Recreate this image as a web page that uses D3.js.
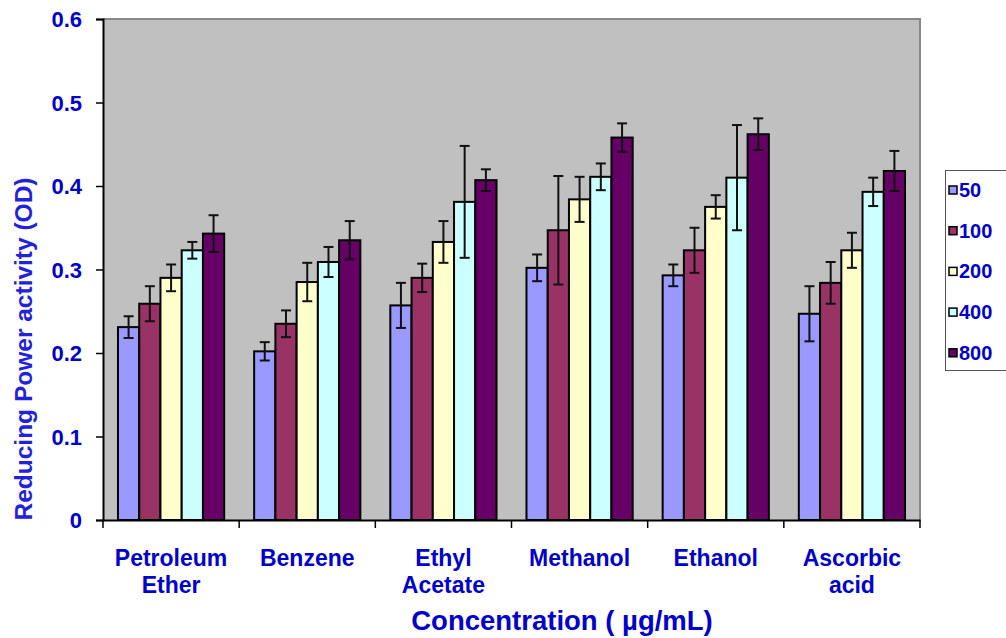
<!DOCTYPE html>
<html>
<head>
<meta charset="utf-8">
<script src="https://cdn.jsdelivr.net/npm/d3@7"></script>
<style>
  html, body { margin: 0; padding: 0; background: #fff; }
  svg { display: block; font-family: "Liberation Sans", Arial, sans-serif; font-weight: bold; }
</style>
</head>
<body>
<svg id="chart" width="1006" height="638"></svg>
<script>
const categories = [["Petroleum", "Ether"], ["Benzene"], ["Ethyl", "Acetate"], ["Methanol"], ["Ethanol"], ["Ascorbic", "acid"]];
const seriesNames = ["50", "100", "200", "400", "800"];
const seriesColors = ["#9999FF", "#993366", "#FFFFCC", "#CCFFFF", "#660066"];
const s50  = [0.231, 0.202, 0.257, 0.302, 0.293, 0.247];
const s100 = [0.259, 0.235, 0.290, 0.347, 0.323, 0.284];
const s200 = [0.290, 0.285, 0.333, 0.384, 0.375, 0.323];
const s400 = [0.323, 0.309, 0.381, 0.411, 0.410, 0.393];
const s800 = [0.343, 0.335, 0.407, 0.458, 0.462, 0.418];
const e50  = [0.013, 0.011, 0.027, 0.016, 0.013, 0.033];
const e100 = [0.021, 0.016, 0.017, 0.065, 0.027, 0.025];
const e200 = [0.016, 0.023, 0.025, 0.027, 0.014, 0.021];
const e400 = [0.010, 0.018, 0.067, 0.016, 0.063, 0.017];
const e800 = [0.022, 0.023, 0.013, 0.017, 0.019, 0.024];
const yTicks = [0, 0.1, 0.2, 0.3, 0.4, 0.5, 0.6];
const yTitle = "Reducing Power activity (OD)";
const xTitle = "Concentration ( µg/mL)";

const values = [s50, s100, s200, s400, s800];
const errors = [e50, e100, e200, e400, e800];

const svg = d3.select("#chart");
const plot = { left: 103, right: 920, top: 19, bottom: 520 };
const catKeys = categories.map(c => c.join(" "));

const x0 = d3.scaleBand().domain(catKeys).range([plot.left, plot.right]).padding(0);
const x1 = d3.scaleBand().domain(seriesNames)
  .range([x0.bandwidth() * 0.11, x0.bandwidth() * 0.89]).padding(0);
const y = d3.scaleLinear().domain([0, 0.6]).range([plot.bottom, plot.top]);

const blue = "#0000CC";

// plot background
svg.append("rect")
  .attr("x", plot.left).attr("y", plot.top)
  .attr("width", plot.right - plot.left).attr("height", plot.bottom - plot.top)
  .attr("fill", "#C0C0C0");
// top and right border
svg.append("path")
  .attr("d", `M${plot.left},${plot.top}H${plot.right}V${plot.bottom}`)
  .attr("fill", "none").attr("stroke", "#888").attr("stroke-width", 2);

// bars
const data = [];
catKeys.forEach((c, ci) => {
  seriesNames.forEach((s, si) => {
    data.push({ c, s, si, v: values[si][ci], e: errors[si][ci] });
  });
});

const g = svg.append("g");
g.selectAll("rect.bar").data(data).enter().append("rect")
  .attr("class", "bar")
  .attr("x", d => x0(d.c) + x1(d.s))
  .attr("y", d => y(d.v))
  .attr("width", x1.bandwidth())
  .attr("height", d => y(0) - y(d.v))
  .attr("fill", d => seriesColors[d.si])
  .attr("stroke", "#000").attr("stroke-width", 2);

// error bars
const eb = g.selectAll("g.err").data(data).enter().append("g")
  .attr("stroke", "#111").attr("stroke-width", 2);
const cx = d => x0(d.c) + x1(d.s) + x1.bandwidth() / 2;
eb.append("line")
  .attr("x1", cx).attr("x2", cx)
  .attr("y1", d => y(d.v + d.e)).attr("y2", d => y(d.v - d.e));
eb.append("line")
  .attr("x1", d => cx(d) - 5).attr("x2", d => cx(d) + 5)
  .attr("y1", d => y(d.v + d.e)).attr("y2", d => y(d.v + d.e));
eb.append("line")
  .attr("x1", d => cx(d) - 5).attr("x2", d => cx(d) + 5)
  .attr("y1", d => y(d.v - d.e)).attr("y2", d => y(d.v - d.e));

// y axis
const yAxis = svg.append("g")
  .attr("transform", `translate(${plot.left},0)`)
  .call(d3.axisLeft(y).tickValues(yTicks).tickSize(7).tickPadding(14)
    .tickFormat(d => d === 0 ? "0" : d3.format(".1f")(d)));
yAxis.select(".domain").attr("stroke", "#000").attr("stroke-width", 2);
yAxis.selectAll(".tick line").attr("stroke", "#000").attr("stroke-width", 1.5);
yAxis.selectAll(".tick text")
  .attr("fill", blue).attr("font-size", 22).attr("font-weight", "bold")
  .attr("font-family", "Liberation Sans, Arial, sans-serif")
  .attr("dy", "0.36em");

// x axis
const xAxis = svg.append("g")
  .attr("transform", `translate(0,${plot.bottom})`)
  .call(d3.axisBottom(x0).tickValues([]).tickSize(0));
xAxis.select(".domain").attr("stroke", "#000").attr("stroke-width", 2);
// category boundary ticks
const bounds = catKeys.map(c => x0(c)).concat([plot.right]);
svg.append("g").selectAll("line").data(bounds).enter().append("line")
  .attr("x1", d => d).attr("x2", d => d)
  .attr("y1", plot.bottom).attr("y2", plot.bottom + 8)
  .attr("stroke", "#000").attr("stroke-width", 1.5);

// category labels
const labels = svg.append("g");
categories.forEach((lines, ci) => {
  const t = labels.append("text")
    .attr("x", x0(catKeys[ci]) + x0.bandwidth() / 2)
    .attr("y", 566)
    .attr("text-anchor", "middle")
    .attr("fill", blue).attr("font-size", 23);
  lines.forEach((ln, li) => {
    t.append("tspan").attr("x", x0(catKeys[ci]) + x0.bandwidth() / 2)
      .attr("dy", li === 0 ? 0 : 27).text(ln);
  });
});

// axis titles
svg.append("text")
  .attr("x", 562).attr("y", 630)
  .attr("text-anchor", "middle")
  .attr("fill", blue).attr("font-size", 27.5)
  .text(xTitle);

svg.append("text")
  .attr("transform", "translate(32,349) rotate(-90)")
  .attr("text-anchor", "middle")
  .attr("fill", "#2222DD").attr("font-size", 24.5)
  .text(yTitle);

// legend
const leg = svg.append("g");
leg.append("rect")
  .attr("x", 945.5).attr("y", 170.5).attr("width", 80).attr("height", 200)
  .attr("fill", "#fff").attr("stroke", "#555").attr("stroke-width", 1);
seriesNames.forEach((s, i) => {
  const cy = 190 + i * 40.7;
  leg.append("rect")
    .attr("x", 949).attr("y", cy - 4).attr("width", 8).attr("height", 8)
    .attr("fill", seriesColors[i]).attr("stroke", "#000").attr("stroke-width", 1.5);
  leg.append("text")
    .attr("x", 959).attr("y", cy + 7)
    .attr("fill", blue).attr("font-size", 20)
    .text(s);
});
</script>
</body>
</html>
